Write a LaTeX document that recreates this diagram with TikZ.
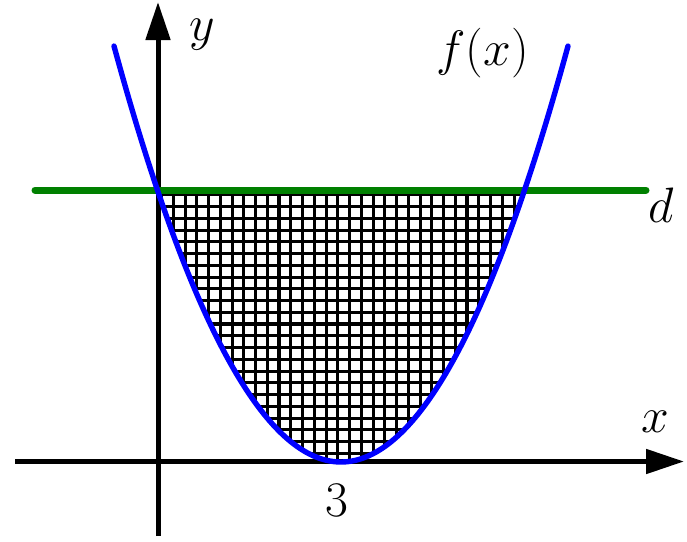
\documentclass[tikz,border=0pt]{standalone}
\usetikzlibrary{arrows.meta}
\definecolor{curveblue}{RGB}{0,0,255}
\definecolor{lineGreen}{RGB}{0,128,0}
\begin{document}
\begin{tikzpicture}[x=0.5pt,y=-0.5pt,
  axisline/.style={line width=2.5pt,-{Triangle[length=19pt,width=12pt]}},
  gridline/.style={line width=1.5pt,black},
  gridthick/.style={line width=2.2pt,black},
  lbl/.style={inner sep=0pt,anchor=base west,font=\fontsize{32}{32}\selectfont}]
\useasboundingbox (0,0) rectangle (687,542);
% shaded grid region
\begin{scope}
  \clip (157,190) -- plot[domain=157:525,samples=120] (\x,{462-0.008078*(\x-341)*(\x-341)}) -- cycle;
  \foreach \k in {-11,...,22} {
    \draw[gridline] ({279+\k*11.75},180) -- ({279+\k*11.75},470);
  }
  \foreach \k in {-12,...,12} {
    \draw[gridline] (150,{324+\k*11.75}) -- (530,{324+\k*11.75});
  }
  \draw[gridthick] (279,180) -- (279,470);
  \draw[gridthick] (467,180) -- (467,470);
  \draw[gridthick] (150,324) -- (530,324);
\end{scope}
% axes
\coordinate (xs) at (15,461.5);
\coordinate (xe) at (684,461.5);
\coordinate (ys) at (158,536);
\coordinate (ye) at (158,2);
\draw[axisline] (xs) -- (xe);
\draw[axisline] (ys) -- (ye);
% line d
\coordinate (ds) at (35,190);
\coordinate (de) at (646,190);
\draw[lineGreen,line width=3.5pt,line cap=round] (ds) -- (de);
% parabola
\draw[curveblue,line width=2.7pt,line cap=round] plot[domain=114:568,samples=150] (\x,{462-0.008078*(\x-341)*(\x-341)});
% labels
\node[lbl] (ylab) at (189,40) {$y$};
\node[lbl] (flab) at (436,65) {$f(x)$};
\node[lbl] (dlab) at (648,222) {$d$};
\node[lbl] (xlab) at (641,432) {$x$};
\node[lbl] (tlab) at (325,516) {$3$};
\end{tikzpicture}
\end{document}
